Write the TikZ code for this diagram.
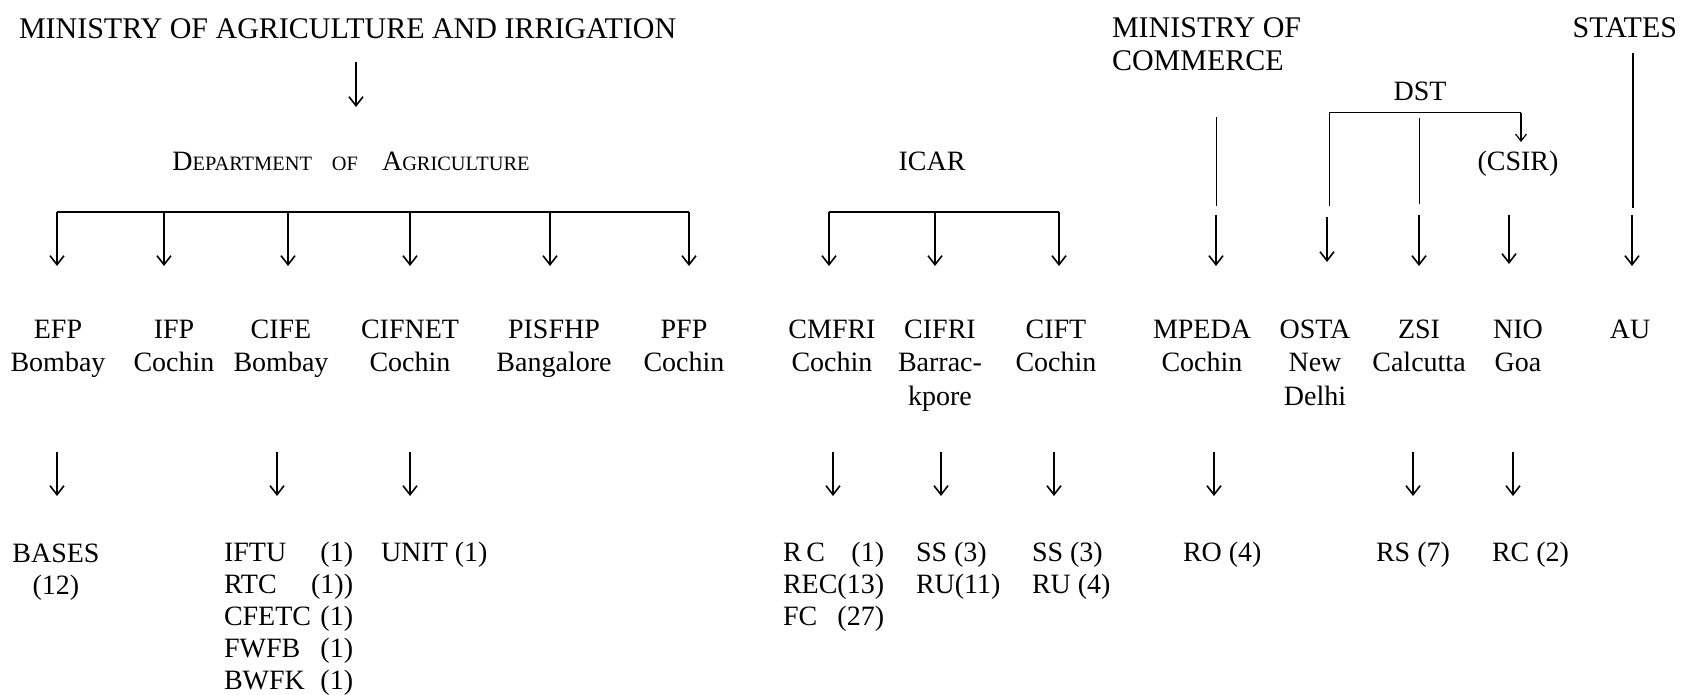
\documentclass[tikz,border=0pt]{standalone}
\usepackage{fontspec}
\setmainfont{Liberation Serif}
\usetikzlibrary{arrows.meta}
\newcommand{\stk}[1]{\begin{tabular}[t]{@{}c@{}}#1\end{tabular}}
\begin{document}
\begin{tikzpicture}[x=0.5pt,y=-0.5pt,
  font=\fontsize{14}{16.5}\selectfont,
  lab/.style={inner sep=0pt,outer sep=0pt,anchor=base},
  big/.style={font=\fontsize{15}{16.5}\selectfont},
  bot/.style={font=\fontsize{14}{16}\selectfont},
  arr/.style={line width=0.8pt,-{Straight Barb[length=4.5pt,width=7pt]}},
  bar/.style={line width=1pt},
  thin/.style={line width=0.5pt}]
\useasboundingbox (0,0) rectangle (1682,695);

% ---------- headings ----------
\node[lab,anchor=base west,big] (moa) at (19,39) {MINISTRY OF AGRICULTURE AND IRRIGATION};
\node[lab] (doa) at (351,171) {{\fontsize{14}{16}\selectfont D}{\fontsize{10.2}{12}\selectfont EPARTMENT\hspace{10pt}OF\hspace{12pt}}{\fontsize{14}{16}\selectfont A}{\fontsize{10.2}{12}\selectfont GRICULTURE}};
\node[lab] (icar) at (932,171) {ICAR};
\node[lab,anchor=base west,big] (moc) at (1112,38) {\begin{tabular}[t]{@{}l@{}}MINISTRY OF\\COMMERCE\end{tabular}};
\node[lab,anchor=base east,big] (states) at (1677,38) {STATES};
\node[lab] (dst) at (1420,101) {DST};
\node[lab] (csir) at (1518,171) {(CSIR)};

% ---------- institutes ----------
\node[lab] (efp)    at (58,339)   {\stk{EFP\\Bombay}};
\node[lab] (ifp)    at (174,339)  {\stk{IFP\\Cochin}};
\node[lab] (cife)   at (281,339)  {\stk{CIFE\\Bombay}};
\node[lab] (cifnet) at (410,339)  {\stk{CIFNET\\Cochin}};
\node[lab] (pisfhp) at (554,339)  {\stk{PISFHP\\Bangalore}};
\node[lab] (pfp)    at (684,339)  {\stk{PFP\\Cochin}};
\node[lab] (cmfri)  at (832,339)  {\stk{CMFRI\\Cochin}};
\node[lab] (cifri)  at (940,339)  {\stk{CIFRI\\Barrac-\\kpore}};
\node[lab] (cift)   at (1056,339) {\stk{CIFT\\Cochin}};
\node[lab] (mpeda)  at (1202,339) {\stk{MPEDA\\Cochin}};
\node[lab] (osta)   at (1315,339) {\stk{OSTA\\New\\Delhi}};
\node[lab] (zsi)    at (1419,339) {\stk{ZSI\\Calcutta}};
\node[lab] (nio)    at (1518,339) {\stk{NIO\\Goa}};
\node[lab] (au)     at (1630,339) {AU};

% ---------- units ----------
\node[lab,bot] (bases) at (56,562) {\stk{BASES\\(12)}};
\node[lab,bot,anchor=base west] (cifeu) at (224,561) {\begin{tabular}[t]{@{}l@{}r@{}}IFTU&(1)\\RTC&(1))\\CFETC&(1)\\FWFB&(1)\\BWFK&(1)\end{tabular}};
\node[lab,bot,anchor=base west] (unit) at (381,561) {UNIT (1)};
\node[lab,bot,anchor=base west] (cmfriu) at (783,561) {\begin{tabular}[t]{@{}l@{}r@{}}R\,C&(1)\\REC&(13)\\FC&(27)\end{tabular}};
\node[lab,bot,anchor=base west] (cifriu) at (916,561) {\begin{tabular}[t]{@{}l@{}}SS (3)\\RU(11)\end{tabular}};
\node[lab,bot,anchor=base west] (ciftu) at (1032,561) {\begin{tabular}[t]{@{}l@{}}SS (3)\\RU (4)\end{tabular}};
\node[lab,bot,anchor=base west] (mpedau) at (1183,561) {RO (4)};
\node[lab,bot,anchor=base west] (zsiu) at (1376,561) {RS (7)};
\node[lab,bot,anchor=base west] (niou) at (1492,561) {RC (2)};

% ---------- reference levels ----------
\coordinate (tipA) at (0,266);
\coordinate (topB) at (0,452);
\coordinate (tipB) at (0,496);

% ministry -> department
\coordinate (t1) at (356,62);
\coordinate (t2) at (356,107);
\draw[arr] (t1) -- (t2);

% department bar
\coordinate (d1) at (57,212);
\coordinate (d2) at (164,212);
\coordinate (d3) at (288,212);
\coordinate (d4) at (410,212);
\coordinate (d5) at (550,212);
\coordinate (d6) at (689,212);
\draw[bar] (d1) -- (d6);
\foreach \c in {d1,d2,d3,d4,d5,d6} \draw[arr] (\c) -- (\c |- tipA);

% ICAR bar
\coordinate (i1) at (829,212);
\coordinate (i2) at (935,212);
\coordinate (i3) at (1059,212);
\draw[bar] (i1) -- (i3);
\foreach \c in {i1,i2,i3} \draw[arr] (\c) -- (\c |- tipA);

% Ministry of Commerce -> MPEDA
\coordinate (m1) at (1216,117);
\coordinate (m2) at (1216,206);
\coordinate (m3) at (1216,215);
\draw[thin] (m1) -- (m2);
\draw[arr] (m3) -- (m3 |- tipA);

% DST bracket
\coordinate (o1) at (1329,206);
\coordinate (o2) at (1329,113);
\coordinate (c1) at (1521,113);
\coordinate (c2) at (1521,142);
\draw[thin] (o1) -- (o2) -- (c1);
\draw[line width=0.6pt,-{Straight Barb[length=3.5pt,width=5.5pt]}] (c1) -- (c2);
\coordinate (o3) at (1327,217);
\coordinate (o4) at (1327,262);
\draw[arr] (o3) -- (o4);
\coordinate (z1) at (1419,118);
\coordinate (z2) at (1419,204);
\coordinate (z3) at (1419,215);
\draw[thin] (z1) -- (z2);
\draw[arr] (z3) -- (z3 |- tipA);
\coordinate (n1) at (1509,215);
\coordinate (n2) at (1509,264);
\draw[arr] (n1) -- (n2);

% States -> AU
\coordinate (s1) at (1633,53);
\coordinate (s2) at (1633,208);
\coordinate (s3) at (1632,215);
\draw[line width=0.8pt] (s1) -- (s2);
\draw[arr] (s3) -- (s3 |- tipA);

% second level
\coordinate (efpD)   at (57,452);
\coordinate (cifeD)  at (277,452);
\coordinate (cifnD)  at (410,452);
\coordinate (cmfriD) at (833,452);
\coordinate (cifriD) at (941,452);
\coordinate (ciftD)  at (1054,452);
\coordinate (mpedaD) at (1214,452);
\coordinate (zsiD)   at (1413,452);
\coordinate (nioD)   at (1513,452);
\foreach \c in {efpD,cifeD,cifnD,cmfriD,cifriD,ciftD,mpedaD,zsiD,nioD}
  \draw[arr] (\c) -- (\c |- tipB);
\end{tikzpicture}
\end{document}
